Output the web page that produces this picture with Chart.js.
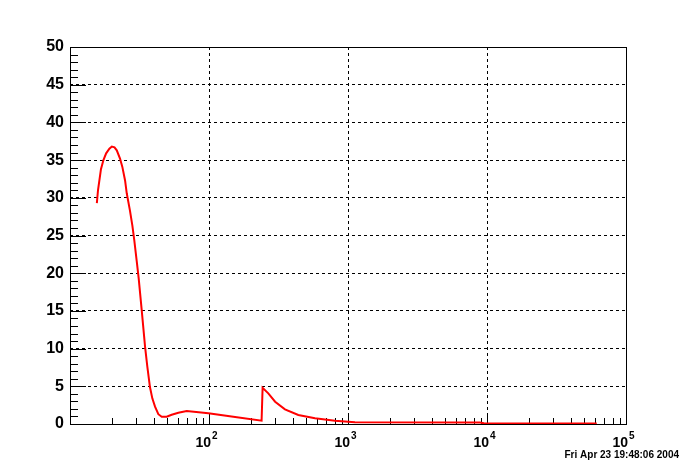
<!DOCTYPE html>
<html lang="en">
<head>
  <meta charset="UTF-8">
  <title>Spectrum</title>
  <script src="https://cdn.jsdelivr.net/npm/chart.js"></script>
  <style>
    body {
      margin: 0;
      background: #fff;
    }
    #chartContainer {
      width: 696px;
      height: 472px;
    }
  </style>
</head>
<body>

  <div id="chartContainer">
    <canvas id="specChart" width="696" height="472"></canvas>
  </div>

  <script>
    // curve (x on log scale)
    const energy = [15.6, 15.9, 16.7, 17.4, 18.2, 19.2, 20.0, 20.9, 21.7, 22.9, 23.8, 24.9, 25.6, 27.0, 28.1, 29.0, 30.2, 31.2, 32.8, 34.7, 36.0, 37.6, 39.1, 40.9, 43.2, 45.7, 49.6, 53.9, 60.2, 69.1, 98.9, 149.6, 239, 243, 267, 299, 352, 439, 579, 806, 1122, 8900, 9500, 61600];
    const values = [29.3, 31.0, 33.8, 35.0, 35.9, 36.5, 36.8, 36.7, 36.3, 35.2, 34.1, 32.3, 30.6, 28.3, 26.3, 24.4, 21.6, 19.3, 15.1, 10.2, 7.6, 4.9, 3.4, 2.3, 1.3, 0.97, 0.97, 1.23, 1.5, 1.72, 1.42, 0.97, 0.44, 4.8, 4.07, 2.96, 1.95, 1.19, 0.76, 0.44, 0.23, 0.2, 0.09, 0.07];

    const xDecades = [10, 100, 1000, 10000, 100000];
    const xLabelExp = ['', '2', '3', '4', '5'];
    const yTicks = [0, 5, 10, 15, 20, 25, 30, 35, 40, 45, 50];
    const stamp = 'Fri Apr 23 19:48:06 2004';

    const FONT = "'Liberation Sans', Arial, sans-serif";

    // frame, inward ticks, superscript labels, date stamp
    const rootStyle = {
      id: 'rootStyle',
      beforeDatasetsDraw(chart) {
        const { ctx, chartArea: a, scales: { x, y } } = chart;
        ctx.save();
        ctx.strokeStyle = '#000';
        ctx.lineWidth = 1;

        ctx.strokeRect(Math.round(a.left) + 0.5, Math.round(a.top) + 0.5,
          Math.round(a.right - a.left), Math.round(a.bottom - a.top));

        // y ticks: minor every 1, major every 5
        ctx.beginPath();
        for (let v = 0; v <= 50; v++) {
          const py = Math.round(y.getPixelForValue(v)) + 0.5;
          const len = v % 5 === 0 ? 16 : 8;
          ctx.moveTo(a.left, py);
          ctx.lineTo(a.left + len, py);
        }
        // x ticks: decades and 2..9 minors
        for (let d = 10; d < 100000; d *= 10) {
          for (let m = 1; m <= 9; m++) {
            const px = Math.round(x.getPixelForValue(d * m)) + 0.5;
            const len = m === 1 ? 11 : 6;
            ctx.moveTo(px, a.bottom);
            ctx.lineTo(px, a.bottom - len);
          }
        }
        ctx.stroke();

        ctx.fillStyle = '#000';
        ctx.textBaseline = 'alphabetic';
        ctx.textAlign = 'left';
        xDecades.forEach((d, i) => {
          if (!xLabelExp[i]) return;
          const px = x.getPixelForValue(d);
          ctx.font = 'bold 14px ' + FONT;
          const wb = ctx.measureText('10').width;
          ctx.font = 'bold 10px ' + FONT;
          const we = ctx.measureText(xLabelExp[i]).width;
          const x0 = px - (wb + we) / 2 - 3;
          ctx.font = 'bold 14px ' + FONT;
          ctx.fillText('10', x0, 447);
          ctx.font = 'bold 10px ' + FONT;
          ctx.fillText(xLabelExp[i], x0 + wb + 1, 439);
        });

        ctx.font = 'bold 10px ' + FONT;
        ctx.textAlign = 'right';
        ctx.fillText(stamp, 679, 458);
        ctx.restore();
      }
    };

    const ctx = document.getElementById('specChart').getContext('2d');

    const chart = new Chart(ctx, {
      type: 'line',
      data: {
        datasets: [{
          data: energy.map((e, i) => ({ x: e, y: values[i] })),
          borderColor: '#ff0000',
          borderWidth: 2,
          pointRadius: 0,
          fill: false,
          tension: 0
        }]
      },
      options: {
        responsive: false,
        animation: false,
        layout: { padding: { top: 47, right: 70, left: 0, bottom: 0 } },
        plugins: {
          legend: { display: false },
          tooltip: { enabled: false }
        },
        scales: {
          x: {
            type: 'logarithmic',
            min: 10,
            max: 100000,
            afterBuildTicks: s => { s.ticks = xDecades.map(v => ({ value: v })); },
            afterFit: s => { s.height = 48; },
            ticks: { display: false },
            border: { display: false, dash: [3, 3] },
            grid: {
              drawTicks: false,
              color: c => (c.tick && (c.tick.value === 10 || c.tick.value === 100000)) ? 'rgba(0,0,0,0)' : '#000',
              lineWidth: 1
            }
          },
          y: {
            min: 0,
            max: 50,
            afterBuildTicks: s => { s.ticks = yTicks.map(v => ({ value: v })); },
            afterFit: s => { s.width = 70; },
            ticks: {
              color: '#000',
              padding: 6,
              font: { family: FONT, weight: 'bold', size: 16 }
            },
            border: { display: false, dash: [3, 3] },
            grid: {
              drawTicks: false,
              color: c => (c.tick && (c.tick.value === 0 || c.tick.value === 50)) ? 'rgba(0,0,0,0)' : '#000',
              lineWidth: 1
            }
          }
        }
      },
      plugins: [rootStyle]
    });
  </script>

</body>
</html>
